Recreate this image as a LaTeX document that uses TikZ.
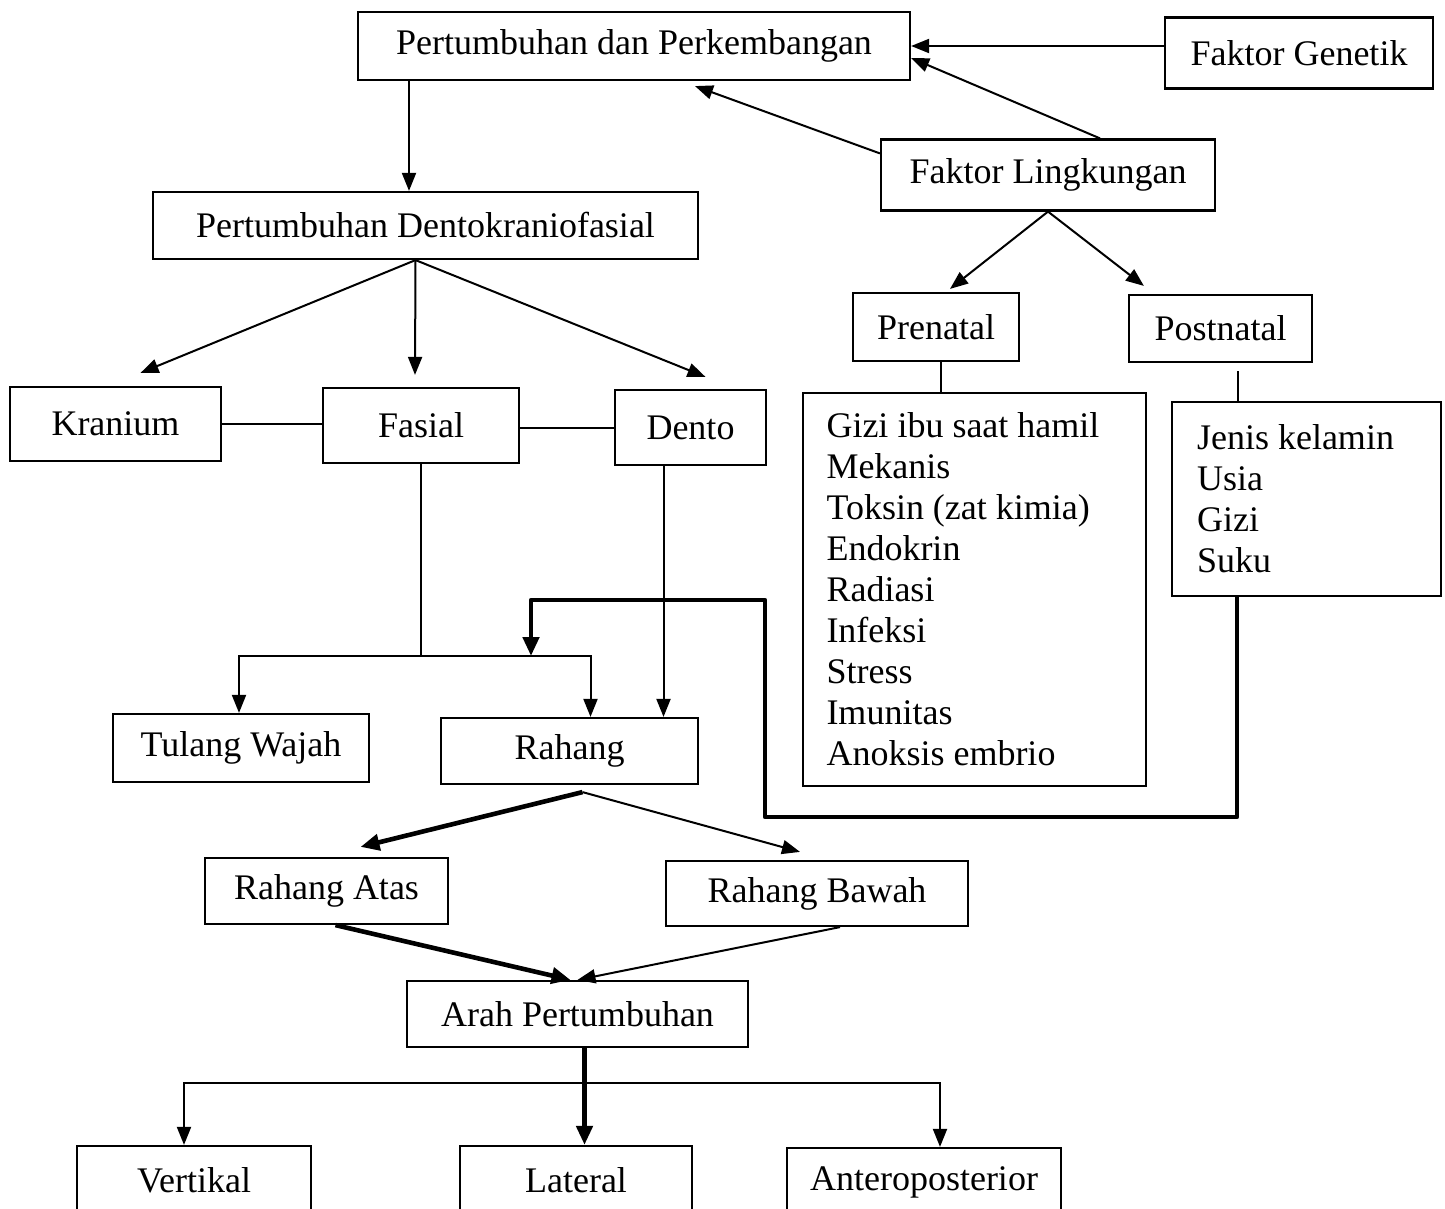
\documentclass[tikz,border=0pt]{standalone}
\usepackage{fontspec}
\setmainfont{Liberation Serif}
\usetikzlibrary{arrows.meta}
\begin{document}
\begin{tikzpicture}[x=0.5pt,y=-0.5pt,
	box/.style={draw,line width=1.1pt,rectangle,inner sep=0pt,font=\fontsize{18}{20.5}\selectfont},
	arr/.style={line width=1pt,-{Triangle[length=9pt,width=7pt]}},
	barr/.style={line width=2.3pt,-{Triangle[length=9.5pt,width=8pt]}},
	ln/.style={line width=1pt}]
	\useasboundingbox (0,0) rectangle (1445,1209);
	% boxes
	\node[box,minimum width=276pt,minimum height=34pt] (pp) at (634,46) {Pertumbuhan dan Perkembangan};
	\node[box,minimum width=134pt,minimum height=35.5pt] (fg) at (1299,53) {Faktor Genetik};
	\node[box,minimum width=167pt,minimum height=35.5pt] (fl) at (1048,175) {Faktor Lingkungan};
	\node[box,minimum width=272.5pt,minimum height=33.5pt] (pd) at (425.5,225.5) {Pertumbuhan Dentokraniofasial};
	\node[box,minimum width=105.5pt,minimum height=37pt] (kranium) at (115.5,424) {Kranium};
	\node[box,minimum width=98pt,minimum height=37.5pt] (fasial) at (421,425.5) {Fasial};
	\node[box,minimum width=75.5pt,minimum height=37.5pt] (dento) at (690.5,427.5) {Dento};
	\node[box,minimum width=83pt,minimum height=34pt] (prenatal) at (936,327) {Prenatal};
	\node[box,minimum width=91.5pt,minimum height=33.5pt] (postnatal) at (1220.5,328.5) {Postnatal};
	\node[box,minimum width=171.5pt,minimum height=196.5pt,text width=148pt,align=flush left] (prelist) at (974.5,589.5)
		{Gizi ibu saat hamil\\Mekanis\\Toksin (zat kimia)\\Endokrin\\Radiasi\\Infeksi\\Stress\\Imunitas\\Anoksis embrio};
	\node[box,minimum width=134.5pt,minimum height=97pt,text width=109.5pt,align=flush left] (postlist) at (1306.5,499)
		{Jenis kelamin\\Usia\\Gizi\\Suku};
	\node[box,minimum width=128pt,minimum height=34pt] (tulang) at (241,748) {Tulang Wajah};
	\node[box,minimum width=128.5pt,minimum height=33pt] (rahang) at (569.5,751) {Rahang};
	\node[box,minimum width=121.5pt,minimum height=33pt] (atas) at (326.5,891) {Rahang Atas};
	\node[box,minimum width=151pt,minimum height=32.5pt] (bawah) at (817,893.5) {Rahang Bawah};
	\node[box,minimum width=170.5pt,minimum height=33pt] (arah) at (577.5,1014) {Arah Pertumbuhan};
	\node[box,minimum width=117pt,minimum height=34pt] (vertikal) at (194,1180) {Vertikal};
	\node[box,minimum width=116pt,minimum height=34pt] (lateral) at (576,1180) {Lateral};
	\node[box,minimum width=137pt,minimum height=34pt] (antero) at (924,1182) {Anteroposterior};
	\coordinate (fasjoin) at (421,656);
	\coordinate (arahjoin) at (584,1083);
	% connectors
	\draw[arr] (pp.east -| fg.west) -- (pp.east);
	\draw[arr] ([xshift=26pt]fl.north) -- ([yshift=-6pt]pp.east);
	\draw[arr] ([yshift=-7.5pt]fl.north west) -- ([xshift=30.5pt,yshift=-2.5pt]pp.south);
	\draw[arr] ([xshift=-112.5pt]pp.south) -- ([xshift=-112.5pt]pp.south |- pd.north);
	\draw[arr] ([xshift=-5pt]pd.south) -- ([xshift=12.5pt,yshift=6.5pt]kranium.north);
	\draw[arr] ([xshift=-5pt]pd.south) -- ([xshift=-3pt,yshift=6pt]fasial.north);
	\draw[arr] ([xshift=-5pt]pd.south) -- ([xshift=7.5pt,yshift=6pt]dento.north);
	\draw[ln] (kranium.east) -- (kranium.east -| fasial.west);
	\draw[ln] ([yshift=-1pt]fasial.east) -- ([yshift=-1pt]fasial.east -| dento.west);
	\draw[arr] (fl.south) -- ([xshift=7pt,yshift=1.5pt]prenatal.north);
	\draw[arr] (fl.south) -- ([xshift=8pt,yshift=4pt]postnatal.north west);
	\draw[ln] ([xshift=2.5pt]prenatal.south) -- ([xshift=2.5pt]prenatal.south |- prelist.north);
	\draw[ln] ([xshift=8.5pt,yshift=-4pt]postnatal.south) -- ([xshift=8.5pt]postnatal.south |- postlist.north);
	\draw[ln] (fasial.south) -- (fasjoin);
	\draw[arr] (fasjoin) -| ([xshift=-1pt]tulang.north);
	\draw[arr] (fasjoin) -| ([xshift=10.5pt]rahang.north);
	\draw[arr] ([xshift=-13.5pt]dento.south) -- ([xshift=-13.5pt]dento.south |- rahang.north);
	\draw[barr,line join=round] ([xshift=-34.75pt]postlist.south) -- ++(0,220) -| (765,600) -| (fasjoin -| 531,0);
	\draw[barr] ([xshift=6.5pt,yshift=-3.5pt]rahang.south) -- ([xshift=17pt,yshift=5pt]atas.north);
	\draw[arr] ([xshift=6.5pt,yshift=-3.5pt]rahang.south) -- ([xshift=-8.5pt,yshift=4pt]bawah.north);
	\draw[barr] ([xshift=4.5pt]atas.south) -- ([xshift=-3.5pt]arah.north);
	\draw[arr] ([xshift=11.5pt]bawah.south) -- ([xshift=0pt]arah.north);
	\draw[barr] ([xshift=3.5pt]arah.south) -- ([xshift=3.5pt]arah.south |- lateral.north);
	\draw[arr] (arahjoin) -| ([xshift=-5pt]vertikal.north);
	\draw[arr] (arahjoin) -| ([xshift=8pt]antero.north);
\end{tikzpicture}
\end{document}
